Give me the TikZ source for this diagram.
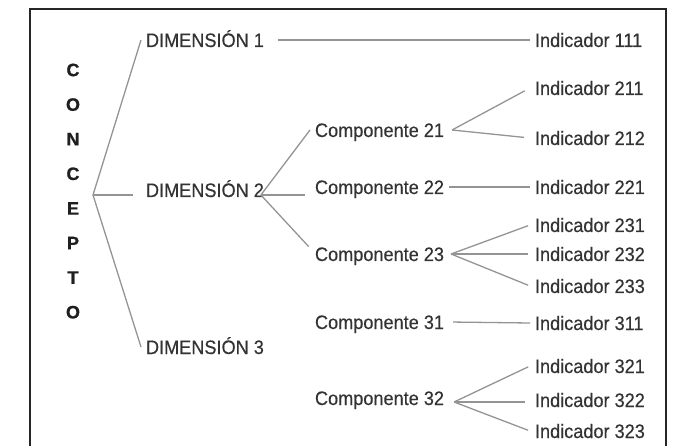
\documentclass[tikz,border=0pt]{standalone}
\usepackage{fontspec}
\setmainfont{Liberation Sans}
\newfontfamily\narrowfont[FakeStretch=0.93,FakeBold=0.4]{Liberation Sans}
\newfontfamily\letrafont[UprightFont=*-Bold,FakeBold=0.8]{Liberation Sans}
\tikzset{
  lbl/.style={anchor=west, inner sep=2pt, outer sep=3pt, text height=15pt, text depth=1pt,
    font=\narrowfont\fontsize{19.5}{22}\selectfont, text=black!80},
  letra/.style={inner sep=0pt, font=\letrafont\fontsize{18}{20}\selectfont, text=black!88},
  conn/.style={draw=black!42, line width=1.3pt}
}
\begin{document}
\begin{tikzpicture}[x=1pt,y=-1pt]
  \useasboundingbox (0,0) rectangle (677,446);
  \draw[line width=1.4pt, black!85] (30,446) -- (30,9) -- (666,9) -- (666,446);
  % concepto
  \foreach \l [count=\i from 0] in {C,O,N,C,E,P,T,O}
    \node[letra] (c\i) at (73,70+34.6*\i) {\l};
  \coordinate (cfork) at (93,195);
  % dimensiones
  \node[lbl] (dim1) at (141,40) {DIMENSIÓN 1};
  \node[lbl] (dim2) at (141,190) {DIMENSIÓN 2};
  \node[lbl] (dim3) at (141,347) {DIMENSIÓN 3};
  % componentes
  \node[lbl] (comp21) at (310,130) {Componente 21};
  \node[lbl] (comp22) at (310,187) {Componente 22};
  \node[lbl] (comp23) at (310,254) {Componente 23};
  \node[lbl] (comp31) at (310,322) {Componente 31};
  \node[lbl] (comp32) at (310,398) {Componente 32};
  % indicadores
  \node[lbl] (ind111) at (530,40) {Indicador 111};
  \node[lbl] (ind211) at (530,88) {Indicador 211};
  \node[lbl] (ind212) at (530,138) {Indicador 212};
  \node[lbl] (ind221) at (530,187) {Indicador 221};
  \node[lbl] (ind231) at (530,225) {Indicador 231};
  \node[lbl] (ind232) at (530,254) {Indicador 232};
  \node[lbl] (ind233) at (530,286) {Indicador 233};
  \node[lbl] (ind311) at (530,323) {Indicador 311};
  \node[lbl] (ind321) at (530,366) {Indicador 321};
  \node[lbl] (ind322) at (530,400) {Indicador 322};
  \node[lbl] (ind323) at (530,431) {Indicador 323};
  \coordinate (f2) at ([xshift=-8pt,yshift=-5pt]dim2.east);
  \coordinate (f21) at ([xshift=3pt]comp21.east);
  \coordinate (f23) at ([xshift=2pt]comp23.east);
  \coordinate (f32) at ([xshift=5pt,yshift=-4pt]comp32.east);
  \begin{scope}[conn]
    \draw (cfork) to (dim1.west);
    \draw[shorten >=8pt] (cfork) to (cfork -| dim2.west);
    \draw (cfork) to (dim3.west);
    \draw[shorten <=9pt] (dim1.east) to (ind111.west);
    \draw (f2) to (comp21.west);
    \draw[shorten >=5pt] (f2) to (f2 -| comp22.west);
    \draw[shorten >=2pt] (f2) to ([yshift=6pt]comp23.west);
    \draw[shorten >=6pt] (f21) to (ind211.west);
    \draw[shorten >=6pt] (f21) to (ind212.west);
    \draw (comp22.east) to (ind221.west);
    \draw[shorten >=2pt] (f23) to (ind231.west);
    \draw[shorten >=2pt] (f23) to (ind232.west);
    \draw[shorten >=2pt] (f23) to (ind233.west);
    \draw[shorten <=4pt] (comp31.east) to (ind311.west);
    \draw[shorten >=2pt] (f32) to (ind321.west);
    \draw[shorten >=5pt] (f32) to (f32 -| ind322.west);
    \draw[shorten >=2pt] (f32) to (ind323.west);
  \end{scope}
\end{tikzpicture}
\end{document}
